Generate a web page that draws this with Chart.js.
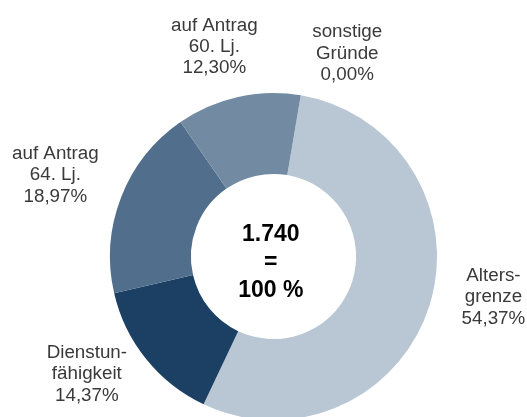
<!DOCTYPE html>
<html>
<head>
<meta charset="utf-8">
<script src="https://cdn.jsdelivr.net/npm/chart.js@4/dist/chart.umd.min.js"></script>
<style>
html,body{margin:0;padding:0;background:#fff;overflow:hidden;}
#wrap{position:relative;width:527px;height:417px;overflow:hidden;}
</style>
</head>
<body>
<div id="wrap"><canvas id="c" width="527" height="440"></canvas></div>
<script>
const categories = [
  ["Alters-", "grenze"],
  ["Dienstun-", "fähigkeit"],
  ["auf Antrag", "64. Lj."],
  ["auf Antrag", "60. Lj."],
  ["sonstige", "Gründe"]
];
const values = [54.37, 14.37, 18.97, 12.30, 0.00];
const percentLabels = ["54,37%", "14,37%", "18,97%", "12,30%", "0,00%"];
const centerLines = ["1.740", "=", "100 %"];
const colors = ["#b9c6d3", "#1b4064", "#516e8c", "#738ba2", "#a0b0c0"];

// label nudges (layout only) relative to anchor outside each arc's mid angle
const labelNudge = [[8.6,-20.6],[-14.1,-16.1],[-11.6,4],[-11.1,11.6],[36.8,20.4]];

const labelPlugin = {
  id: 'outLabels',
  afterDatasetsDraw(chart) {
    const ctx = chart.ctx;
    const meta = chart.getDatasetMeta(0);
    ctx.save();
    ctx.textAlign = 'center';
    ctx.textBaseline = 'alphabetic';
    ctx.fillStyle = '#3a3a3a';
    ctx.font = '18.8px "Liberation Sans", Arial, sans-serif';
    meta.data.forEach((arc, i) => {
      const p = arc.getProps(['x','y','startAngle','endAngle','outerRadius'], true);
      const mid = (p.startAngle + p.endAngle) / 2;
      const d = p.outerRadius + 58;
      const cx = p.x + Math.cos(mid) * d + labelNudge[i][0];
      const cy = p.y + Math.sin(mid) * d + labelNudge[i][1];
      const lines = [...categories[i], percentLabels[i]];
      const lh = 21.3;
      lines.forEach((t, k) => {
        ctx.fillText(t, cx, cy + (k - 1) * lh);
      });
    });
    // center text
    const a = meta.data[0];
    ctx.fillStyle = '#000000';
    ctx.font = 'bold 23px "Liberation Sans", Arial, sans-serif';
    const off = [-15.8, 12.2, 40.2];
    centerLines.forEach((t, k) => {
      ctx.fillText(t, a.x - 2.7, a.y + off[k]);
    });
    ctx.restore();
  }
};

new Chart(document.getElementById('c'), {
  type: 'doughnut',
  data: {
    labels: categories.map(c => c.join(' ')),
    datasets: [{
      data: values,
      backgroundColor: colors,
      borderWidth: 0
    }]
  },
  options: {
    responsive: false,
    animation: false,
    rotation: 9.6,
    cutout: '50.5%',
    layout: { padding: { left: 110, right: 90, top: 93, bottom: 20 } },
    plugins: {
      legend: { display: false },
      tooltip: { enabled: false }
    }
  },
  plugins: [labelPlugin]
});
</script>
</body>
</html>
